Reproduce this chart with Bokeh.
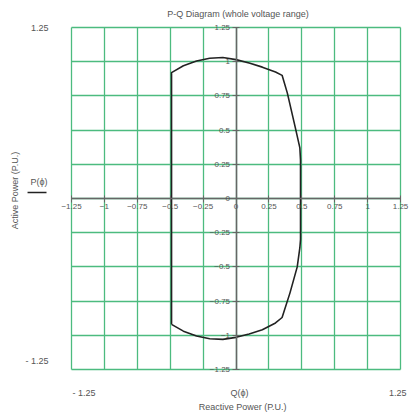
from bokeh.plotting import figure
from bokeh.models import Range1d, FixedTicker, Label, Arrow
from bokeh.embed import file_html
from bokeh.resources import INLINE

# P-Q capability curve (Q reactive, P active, per unit)
q_vals = [-0.49, -0.49, -0.40, -0.30, -0.20, -0.10, 0.00, 0.10, 0.20, 0.30, 0.35, 0.39,
          0.45, 0.485, 0.49, 0.49, 0.485, 0.465, 0.41, 0.35, 0.30, 0.20, 0.10, 0.00,
          -0.10, -0.20, -0.30, -0.40, -0.49]
p_vals = [-0.92, 0.92, 0.97, 1.005, 1.025, 1.03, 1.015, 0.99, 0.96, 0.925, 0.90, 0.77,
          0.52, 0.37, 0.28, -0.30, -0.36, -0.50, -0.69, -0.87, -0.91, -0.96, -0.99, -1.015,
          -1.03, -1.025, -1.005, -0.97, -0.92]
tick_vals = [-1.25, -1.0, -0.75, -0.5, -0.25, 0.0, 0.25, 0.5, 0.75, 1.0, 1.25]

FONT = "Liberation Sans"
TXT = "#555555"
GRID = "#4cbb7f"

p = figure(width=409, height=414, output_backend="svg", toolbar_location=None,
           x_range=Range1d(-1.7895, 1.318), y_range=Range1d(-1.579, 1.447),
           min_border=0)
p.outline_line_color = None
p.background_fill_color = "white"

for ax in (p.xaxis, p.yaxis):
    ax.fixed_location = 0
    ax.bounds = (-1.25, 1.25)
    ax.ticker = FixedTicker(ticks=tick_vals)
    ax.minor_tick_line_color = None
    ax.axis_line_color = "#666666"
    ax.axis_line_width = 1.5
    ax.major_tick_line_color = "#666666"
    ax.major_tick_in = 3
    ax.major_tick_out = 4
    ax.major_label_text_font = FONT
    ax.major_label_text_font_size = "8px"
    ax.major_label_text_color = TXT
    ax.major_label_standoff = 2

for g in (p.xgrid, p.ygrid):
    g.bounds = (-1.25, 1.25)
    g.cross_bounds = (-1.25, 1.25)
    g.ticker = FixedTicker(ticks=tick_vals)
    g.grid_line_color = GRID
    g.grid_line_width = 1.3
    g.grid_line_alpha = 1.0

p.line(q_vals, p_vals, line_color="#222222", line_width=1.6)

def lab(x, y, text, align="center", size="9px", angle=0.0):
    p.add_layout(Label(x=x, y=y, text=text, text_align=align, text_baseline="middle",
                       text_font=FONT, text_font_size=size, text_color=TXT, angle=angle))

lab(0.015, 1.35, "P-Q Diagram (whole voltage range)")
lab(-1.425, 1.245, "1.25", align="right")
lab(-1.425, -1.19, "- 1.25", align="right")
lab(-1.242, -1.42, "- 1.25", align="left")
lab(1.2956, -1.42, "1.25", align="right")
lab(0.027, -1.42, "Q(\u03d5)")
lab(0.05, -1.5256, "Reactive Power (P.U.)")
lab(-1.676, 0.058, "Active Power (P.U.)", angle=1.5708)
lab(-1.497, 0.117, "P(\u03d5)")
p.add_layout(Arrow(end=None, x_start=-1.584, y_start=0.044, x_end=-1.44, y_end=0.044,
                   line_color="#222222", line_width=1.5))

open("out.html", "w").write(file_html(p, INLINE))
